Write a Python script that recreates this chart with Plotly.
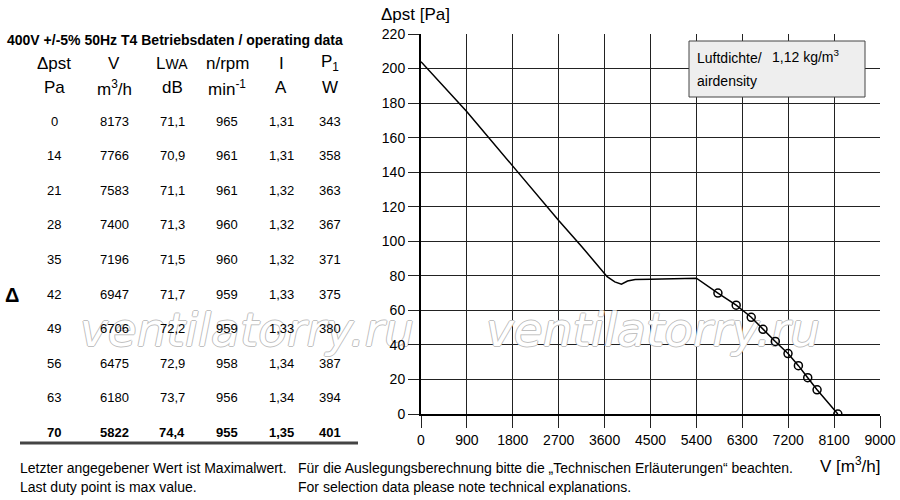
import plotly.graph_objects as go

W, H = 900, 500

# operating data table (also the marked duty points)
dp_pa = [0, 14, 21, 28, 35, 42, 49, 56, 63, 70]
v_m3h = [8173, 7766, 7583, 7400, 7196, 6947, 6706, 6475, 6180, 5822]
lwa_db = ["71,1", "70,9", "71,1", "71,3", "71,5", "71,7", "72,2", "72,9", "73,7", "74,4"]
n_rpm = [965, 961, 961, 960, 960, 959, 959, 958, 956, 955]
i_amp = ["1,31", "1,31", "1,32", "1,32", "1,32", "1,33", "1,33", "1,34", "1,34", "1,35"]
p1_w = [343, 358, 363, 367, 371, 375, 380, 387, 394, 401]

# fan curve left of the duty points
curve_v = [0, 900, 1800, 2700, 3150, 3450, 3650, 3800, 3930, 4050, 4200, 4500, 5400]
curve_dp = [204, 175, 143.5, 112, 97, 86.5, 79.5, 76.5, 75.2, 77, 77.8, 78, 78.6]

x_ticks = [0, 900, 1800, 2700, 3600, 4500, 5400, 6300, 7200, 8100, 9000]
y_ticks = list(range(0, 221, 20))

headers = ["Δpst", "V", "L<span style='font-size:14px'>WA</span>", "n/rpm", "I", "P<sub>1</sub>"]
units = ["Pa", "m<sup>3</sup>/h", "dB", "min<sup>-1</sup>", "A", "W"]
col_x = [54, 114, 172, 227, 281, 330]

FONT = "Liberation Sans, Arial, sans-serif"
WM_TEXT = "ventilatorry.ru"
WM_FONT = dict(family="DejaVu Sans", size=47, style="italic")
WM_STACK = [(1, 0, "#c0c0c0"), (-1, 0, "#c0c0c0"), (0, 1, "#c0c0c0"),
            (0, -1, "#c0c0c0"), (0, 0, "white")]

# plot area in window pixels
X0, X1, Y0, Y1 = 421, 880, 414, 34
XMAX, YMAX = 9000, 220


def px(x):
    return x / W


def py(y):
    return 1 - y / H


fig = go.Figure()

# left watermark lives on a hidden helper subplot (x/y) drawn beneath the chart (x2/y2)
ux_l, uy_l = 1 / X0, 1 / (Y0 - Y1)
for dx, dy, col in WM_STACK:
    fig.add_trace(go.Scatter(
        x=[247 / X0 + dx * ux_l], y=[(Y0 - 334) / (Y0 - Y1) + dy * uy_l],
        mode="text", text=[WM_TEXT], textposition="middle center",
        cliponaxis=False, hoverinfo="skip", textfont=dict(WM_FONT, color=col),
        xaxis="x", yaxis="y",
    ))

# right watermark inside the chart, under the curve
ux, uy = XMAX / (X1 - X0), YMAX / (Y0 - Y1)
wcx, wcy = (653 - X0) * ux, (Y0 - 334) * uy
for dx, dy, col in WM_STACK:
    fig.add_trace(go.Scatter(
        x=[wcx + dx * ux], y=[wcy + dy * uy], mode="text", text=[WM_TEXT],
        textposition="middle center", cliponaxis=False, hoverinfo="skip",
        textfont=dict(WM_FONT, color=col), xaxis="x2", yaxis="y2",
    ))

line_v = curve_v + v_m3h[::-1]
line_dp = curve_dp + dp_pa[::-1]
fig.add_trace(go.Scatter(
    x=line_v, y=line_dp,
    mode="lines",
    line=dict(color="black", width=1.5),
    hoverinfo="skip", xaxis="x2", yaxis="y2",
))
fig.add_trace(go.Scatter(
    x=v_m3h, y=dp_pa,
    mode="markers",
    marker=dict(symbol="circle-open", size=8, color="black", line=dict(width=1.5)),
    xaxis="x2", yaxis="y2",
))

ann = []


def text(x, y, s, size=13, anchor="center", bold=False):
    ann.append(dict(
        x=px(x), y=py(y), xref="paper", yref="paper", text=s, showarrow=False,
        xanchor=anchor, yanchor="middle",
        font=dict(family=FONT, size=size, color="black", weight="bold" if bold else "normal"),
    ))


text(5, 40, "400V +/-5% 50Hz T4 Betriebsdaten / operating data", size=14, anchor="left", bold=True)
for cx, h, u in zip(col_x, headers, units):
    text(cx, 63, h, size=17)
    text(cx, 88, u, size=17)

rows = list(zip(dp_pa, v_m3h, lwa_db, n_rpm, i_amp, p1_w))
for r, row in enumerate(rows):
    y = 121 + r * 34.6
    last = r == len(rows) - 1
    for cx, val in zip(col_x, row):
        text(cx, y, str(val), size=13, bold=last)

text(12, 295, "Δ", size=20, bold=True)

text(18, 468, "Letzter angegebener Wert ist Maximalwert.", size=14, anchor="left")
text(18, 487, "Last duty point is max value.", size=14, anchor="left")
text(296, 468, "Für die Auslegungsberechnung bitte die „Technischen Erläuterungen“ beachten.", size=14, anchor="left")
text(296, 487, "For selection data please note technical explanations.", size=14, anchor="left")

text(379, 14, "Δpst [Pa]", size=17, anchor="left")
text(818, 465, "V [m<sup>3</sup>/h]", size=17, anchor="left")

text(695, 58, "Luftdichte/", size=14, anchor="left")
text(770, 56, "1,12 kg/m<sup>3</sup>", size=14, anchor="left")
text(695, 81, "airdensity", size=14, anchor="left")

shapes = [
    dict(type="rect", xref="paper", yref="paper", x0=px(689), x1=px(865), y0=py(97), y1=py(41),
         fillcolor="#eeeeee", line=dict(color="#444", width=1), layer="above"),
    dict(type="line", xref="paper", yref="paper", x0=px(20), x1=px(358), y0=py(443), y1=py(443),
         line=dict(color="#444", width=3)),
]

fig.update_layout(
    width=W, height=H,
    margin=dict(l=0, r=0, t=0, b=0),
    paper_bgcolor="white", plot_bgcolor="rgba(0,0,0,0)",
    showlegend=False,
    font=dict(family=FONT, color="black"),
    annotations=ann,
    shapes=shapes,
    xaxis=dict(domain=[0, px(X0)], range=[0, 1], visible=False, fixedrange=True),
    yaxis=dict(domain=[py(Y0), py(Y1)], range=[0, 1], visible=False, fixedrange=True),
    xaxis2=dict(
        domain=[px(X0), px(X1)], range=[0, XMAX], anchor="y2",
        tickvals=x_ticks, ticks="outside", ticklen=12, tickcolor="#222",
        showgrid=True, gridcolor="#222", gridwidth=1,
        showline=True, linecolor="black", linewidth=2, zeroline=False,
        tickfont=dict(size=14, family=FONT), automargin=False,
    ),
    yaxis2=dict(
        domain=[py(Y0), py(Y1)], range=[0, YMAX], anchor="x2",
        tickvals=y_ticks, ticks="outside", ticklen=11, tickcolor="#222",
        showgrid=True, gridcolor="#222", gridwidth=1,
        showline=True, linecolor="black", linewidth=2, zeroline=False,
        tickfont=dict(size=14, family=FONT), automargin=False,
    ),
)

# drop the page's default body margin so the 900x500 figure fills the window
fig.write_html("out.html", config={"displayModeBar": False},
               post_script="document.body.style.margin='0';")
